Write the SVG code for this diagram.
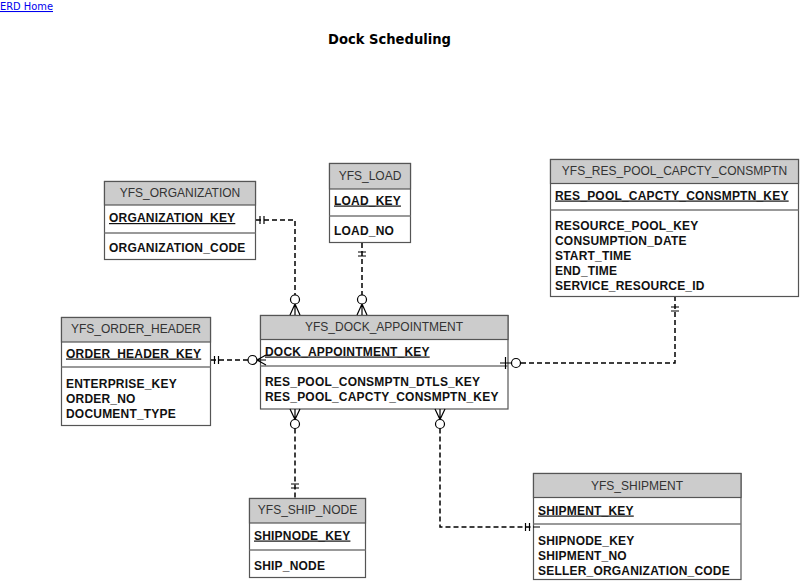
<svg xmlns="http://www.w3.org/2000/svg" width="800" height="583" viewBox="0 0 800 583">
<style>
.bg{fill:#ffffff}
.box{fill:#ffffff;stroke:#555555;stroke-width:1.2}
.hdr{fill:#cccccc;stroke:#555555;stroke-width:1.2}
.sep{stroke:#777777;stroke-width:1.5;fill:none}
.ht{font-family:"Liberation Sans",Arial,sans-serif;font-size:12px;fill:#333333;text-anchor:middle}
.kt{font-family:"Liberation Sans",Arial,sans-serif;font-size:12px;font-weight:bold;fill:#111111;letter-spacing:0.2px;text-decoration:underline}
.at{font-family:"Liberation Sans",Arial,sans-serif;font-size:12px;font-weight:bold;fill:#111111;letter-spacing:0.2px}
.ln{fill:none;stroke:#000000;stroke-width:1.5;stroke-dasharray:5 3}
.mk{fill:none;stroke:#000000;stroke-width:1.2}
.ci{fill:#ffffff;stroke:#000000;stroke-width:1.2}
</style>
<rect class="bg" x="0" y="0" width="800" height="583"/>
<text x="0" y="10" font-family="DejaVu Sans,Verdana,sans-serif" font-size="10.5" fill="#0000ee" text-decoration="underline" textLength="53" lengthAdjust="spacingAndGlyphs">ERD Home</text>
<text x="328" y="44" font-family="DejaVu Sans,Verdana,sans-serif" font-size="14" font-weight="bold" fill="#000000" textLength="123" lengthAdjust="spacingAndGlyphs">Dock Scheduling</text>

<g id="YFS_ORGANIZATION">
  <rect class="box" x="104.5" y="181.5" width="151" height="78"/>
  <rect class="hdr" x="104.5" y="181.5" width="151" height="23.5"/>
  <line class="sep" x1="104.5" y1="233" x2="255.5" y2="233"/>
  <text class="ht" x="180" y="197">YFS_ORGANIZATION</text>
  <text class="kt" x="109" y="222">ORGANIZATION_KEY</text>
  <text class="at" x="109" y="251.5">ORGANIZATION_CODE</text>
</g>

<g id="YFS_LOAD">
  <rect class="box" x="329.5" y="163.5" width="81" height="79"/>
  <rect class="hdr" x="329.5" y="163.5" width="81" height="25.5"/>
  <line class="sep" x1="329.5" y1="216" x2="410.5" y2="216"/>
  <text class="ht" x="370" y="179.5">YFS_LOAD</text>
  <text class="kt" x="334" y="204.5">LOAD_KEY</text>
  <text class="at" x="334" y="234.5">LOAD_NO</text>
</g>

<g id="YFS_RES_POOL_CAPCTY_CONSMPTN">
  <rect class="box" x="550.5" y="159.5" width="248" height="137"/>
  <rect class="hdr" x="550.5" y="159.5" width="248" height="24"/>
  <line class="sep" x1="550.5" y1="210" x2="798.5" y2="210"/>
  <text class="ht" x="674.5" y="174.5">YFS_RES_POOL_CAPCTY_CONSMPTN</text>
  <text class="kt" x="555" y="199.5">RES_POOL_CAPCTY_CONSMPTN_KEY</text>
  <text class="at" x="555" y="229.5">RESOURCE_POOL_KEY</text>
  <text class="at" x="555" y="244.5">CONSUMPTION_DATE</text>
  <text class="at" x="555" y="259.5">START_TIME</text>
  <text class="at" x="555" y="274.5">END_TIME</text>
  <text class="at" x="555" y="289.5">SERVICE_RESOURCE_ID</text>
</g>

<g id="YFS_ORDER_HEADER">
  <rect class="box" x="61.5" y="317.5" width="149" height="108"/>
  <rect class="hdr" x="61.5" y="317.5" width="149" height="24.5"/>
  <line class="sep" x1="61.5" y1="367" x2="210.5" y2="367"/>
  <text class="ht" x="136" y="332.5">YFS_ORDER_HEADER</text>
  <text class="kt" x="66" y="357.5">ORDER_HEADER_KEY</text>
  <text class="at" x="66" y="387.5">ENTERPRISE_KEY</text>
  <text class="at" x="66" y="402.5">ORDER_NO</text>
  <text class="at" x="66" y="417.5">DOCUMENT_TYPE</text>
</g>

<g id="YFS_DOCK_APPOINTMENT">
  <rect class="box" x="260.5" y="315.5" width="247.5" height="93.5"/>
  <rect class="hdr" x="260.5" y="315.5" width="247.5" height="24"/>
  <line class="sep" x1="260.5" y1="366" x2="508" y2="366"/>
  <text class="ht" x="384" y="330.5">YFS_DOCK_APPOINTMENT</text>
  <text class="kt" x="265" y="355.5">DOCK_APPOINTMENT_KEY</text>
  <text class="at" x="265" y="385.5">RES_POOL_CONSMPTN_DTLS_KEY</text>
  <text class="at" x="265" y="400.5">RES_POOL_CAPCTY_CONSMPTN_KEY</text>
</g>

<g id="YFS_SHIP_NODE">
  <rect class="box" x="249.5" y="498.5" width="116" height="79"/>
  <rect class="hdr" x="249.5" y="498.5" width="116" height="24.5"/>
  <line class="sep" x1="249.5" y1="550" x2="365.5" y2="550"/>
  <text class="ht" x="307.5" y="513.5">YFS_SHIP_NODE</text>
  <text class="kt" x="254" y="539.5">SHIPNODE_KEY</text>
  <text class="at" x="254" y="569.5">SHIP_NODE</text>
</g>

<g id="YFS_SHIPMENT">
  <rect class="box" x="533.5" y="473.5" width="207.5" height="106"/>
  <rect class="hdr" x="533.5" y="473.5" width="207.5" height="24"/>
  <line class="sep" x1="533.5" y1="524" x2="741" y2="524"/>
  <text class="ht" x="637" y="489.5">YFS_SHIPMENT</text>
  <text class="kt" x="538" y="514.5">SHIPMENT_KEY</text>
  <text class="at" x="538" y="544.5">SHIPNODE_KEY</text>
  <text class="at" x="538" y="559.5">SHIPMENT_NO</text>
  <text class="at" x="538" y="574.5">SELLER_ORGANIZATION_CODE</text>
</g>

<g id="connectors">
  <!-- ORG -> DOCK -->
  <path class="ln" d="M256,220 H295 V295"/>
  <path class="mk" d="M260,216 V224 M264,216 V224"/>
  <circle class="ci" cx="295" cy="299.5" r="4.5"/>
  <path class="mk" d="M295,304 L290,315 M295,304 V315 M295,304 L300,315"/>
  <!-- LOAD -> DOCK -->
  <path class="ln" d="M362,243 V295"/>
  <path class="mk" d="M358,252 H366 M358,256 H366"/>
  <circle class="ci" cx="362" cy="299.5" r="4.5"/>
  <path class="mk" d="M362,304 L357,315 M362,304 V315 M362,304 L367,315"/>
  <!-- ORDER -> DOCK -->
  <path class="ln" d="M211,360 H248"/>
  <path class="mk" d="M214.5,356 V364 M218.5,356 V364"/>
  <circle class="ci" cx="252.5" cy="360" r="4.5"/>
  <path class="mk" d="M257,360 L266,355 M257,360 H266 M257,360 L266,365"/>
  <!-- DOCK -> RES POOL -->
  <path class="ln" d="M521,363 H675 V297"/>
  <path class="mk" d="M500,363 H511.5 M505.5,357 V369"/>
  <circle class="ci" cx="516" cy="363" r="4.5"/>
  <path class="mk" d="M671,307 H679 M671,311 H679"/>
  <!-- DOCK -> SHIP_NODE -->
  <path class="ln" d="M295,428.5 V498"/>
  <path class="mk" d="M290,409 L295,419.5 M295,409 V419.5 M300,409 L295,419.5"/>
  <circle class="ci" cx="295" cy="424" r="4.5"/>
  <path class="mk" d="M291,484 H299 M291,488 H299"/>
  <!-- DOCK -> SHIPMENT -->
  <path class="ln" d="M440,428.5 V527 H533"/>
  <path class="mk" d="M435,409 L440,419.5 M440,409 V419.5 M445,409 L440,419.5"/>
  <circle class="ci" cx="440" cy="424" r="4.5"/>
  <path class="mk" d="M525.5,523 V531 M529.5,523 V531 M533,527 H540"/>
</g>
</svg>
